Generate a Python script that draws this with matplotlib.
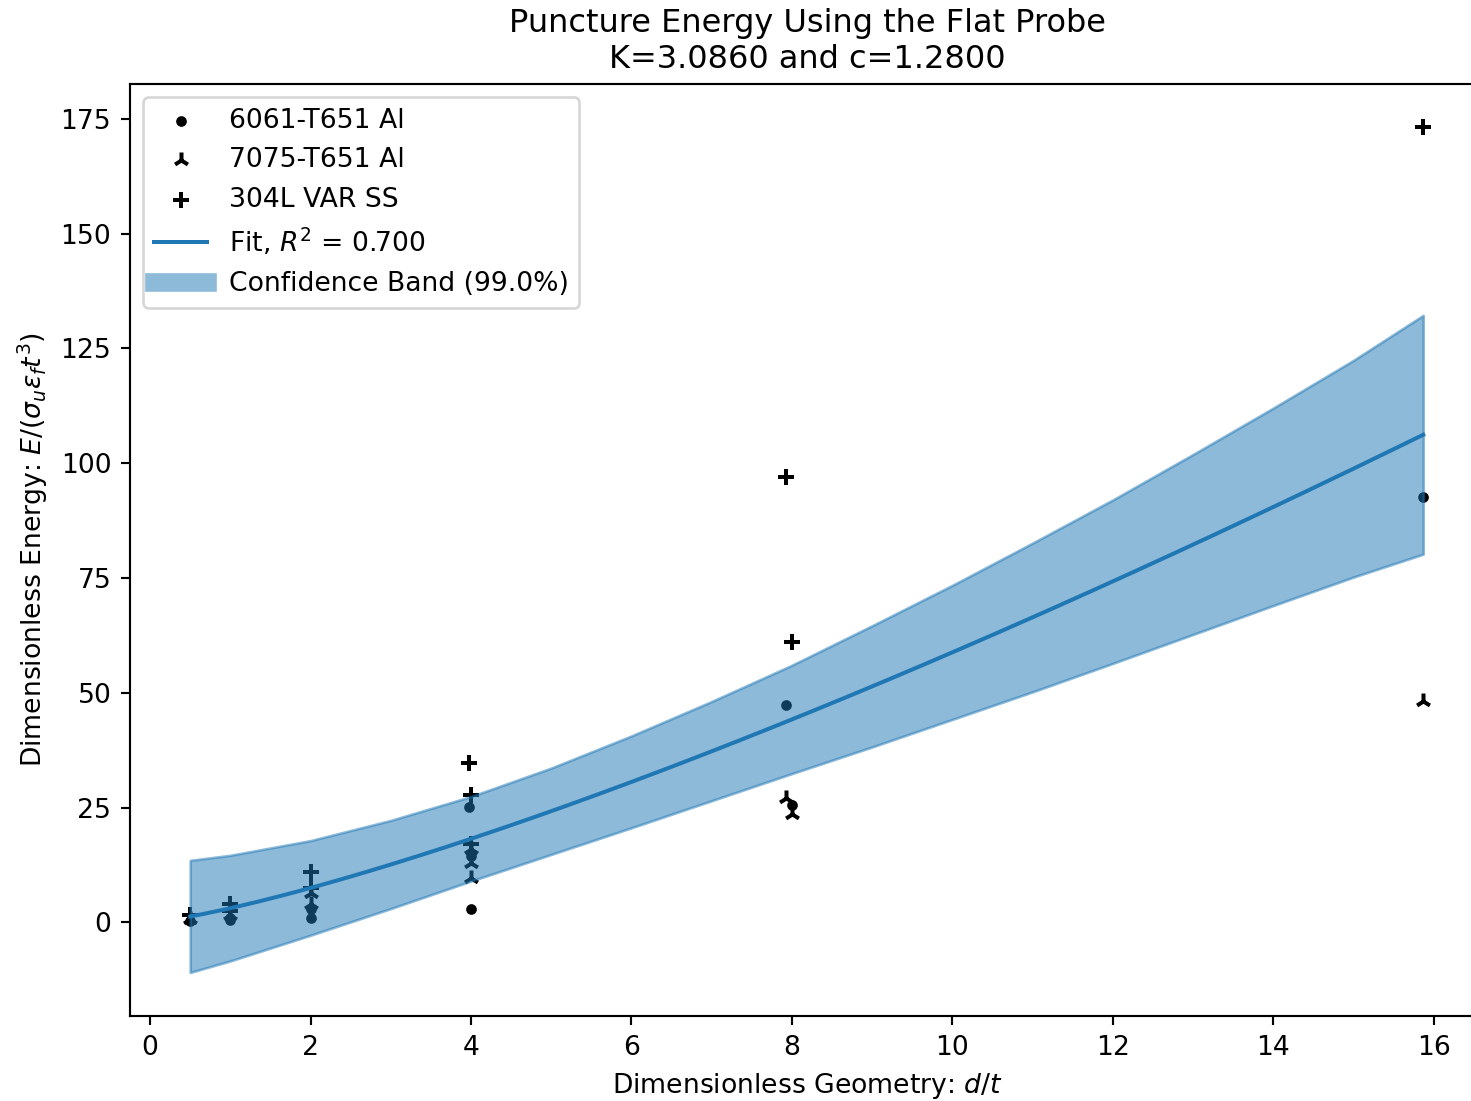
import numpy as np
import matplotlib
matplotlib.use('Agg')
import matplotlib.pyplot as plt
from matplotlib.lines import Line2D

# fit parameters: E = K * (d/t)^c
K = 3.0860
c = 1.2800
r2 = 0.700

# measured points, d/t vs dimensionless energy
al6061_x = [0.5, 1.0, 1.0, 2.0, 2.0, 3.97, 4.0, 4.0, 7.93, 8.0, 15.87]
al6061_y = [0.3, 0.5, 1.0, 1.0, 3.0, 25.2, 14.5, 2.8, 47.4, 25.5, 92.6]

al7075_x = [0.5, 1.0, 2.0, 2.0, 4.0, 4.0, 4.0, 7.93, 8.0, 15.87]
al7075_y = [0.8, 1.5, 6.5, 4.0, 16.0, 13.0, 9.6, 27.0, 23.5, 48.3]

ss304_x = [0.5, 1.0, 1.0, 2.0, 2.0, 3.97, 4.0, 4.0, 7.93, 8.0, 15.87]
ss304_y = [1.5, 4.0, 2.5, 11.0, 7.5, 34.6, 27.7, 17.0, 97.0, 61.1, 173.3]

# 99% confidence band of the fit
band_x = [0.5, 1, 2, 3, 4, 5, 6, 7, 8, 9, 10, 11, 12, 13, 14, 15, 15.87]
band_upper = [13.5, 14.6, 17.8, 22.2, 27.4, 33.6, 40.6, 48.1, 56.0, 64.6,
              73.4, 82.6, 92.0, 101.9, 112.0, 122.4, 132.2]
band_lower = [-10.9, -8.4, -2.8, 3.0, 9.0, 14.8, 20.6, 26.5, 32.4, 38.2,
              44.2, 50.2, 56.4, 62.7, 69.0, 75.2, 80.2]

fig = plt.figure(figsize=(1471 / 192, 1101 / 192), dpi=192)
# axes run slightly past the right edge of the canvas
ax = fig.add_axes([0.0884, 0.0772, 0.9211, 0.8465])

s1 = ax.scatter(al6061_x, al6061_y, marker='.', c='k', label='6061-T651 Al')
s2 = ax.scatter(al7075_x, al7075_y, marker='2', c='k', label='7075-T651 Al')
s3 = ax.scatter(ss304_x, ss304_y, marker='+', c='k', label='304L VAR SS')

ax.fill_between(band_x, band_lower, band_upper, color='C0', alpha=0.5)

xfit = np.linspace(band_x[0], band_x[-1], 200)
fit, = ax.plot(xfit, K * xfit**c, color='C0', label=r'Fit, $R^2$ = %.3f' % r2)

# thick line as the legend entry for the band
band_handle = Line2D([], [], color='C0', alpha=0.5, lw=7,
                     label='Confidence Band (99.0%)')

ax.set_xlim(-0.25, 16.64)
ax.set_ylim(-20.4, 182.6)
ax.set_xlabel(r'Dimensionless Geometry: $d/t$')
ax.set_ylabel(r'Dimensionless Energy: $E/(\sigma_u \varepsilon_f t^3)$')
ax.set_title('Puncture Energy Using the Flat Probe\nK=%.4f and c=%.4f' % (K, c))
ax.legend(handles=[s1, s2, s3, fit, band_handle], loc='upper left')

fig.savefig('out.png', dpi=192)
